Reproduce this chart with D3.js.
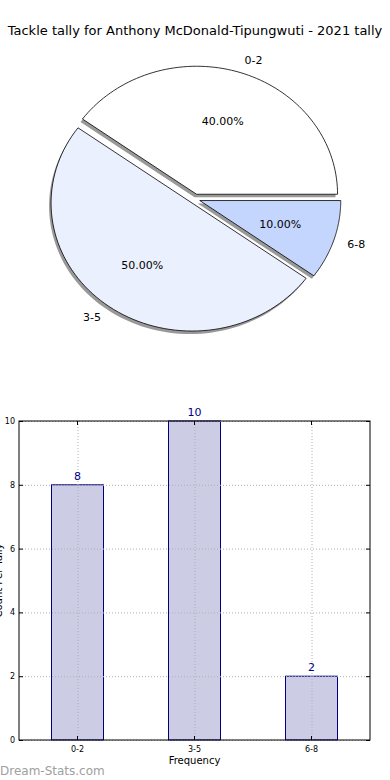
<!DOCTYPE html>
<html>
<head>
<meta charset="utf-8">
<script src="https://cdnjs.cloudflare.com/ajax/libs/d3/7.8.5/d3.min.js"></script>
<style>
body{margin:0;background:#fff;}
svg{display:block;font-family:"DejaVu Sans",sans-serif;}
</style>
</head>
<body>
<svg id="chart"></svg>
<script>
//----------data----------
var categories = ["0-2","3-5","6-8"]
var tallies = [8,10,2]
var pieColors = ["#ffffff","#eaf0fd","#c4d6fd"]
var yTicks = [0,2,4,6,8,10]
var title = "Tackle tally for Anthony McDonald-Tipungwuti - 2021 tally"

var screen = {width:390, height:780}
var svg = d3.select("#chart")
	.attr("width",screen.width)
	.attr("height",screen.height)

svg.append("text")
	.attr("x",195)
	.attr("y",35)
	.attr("text-anchor","middle")
	.style("font-size","13px")
	.text(title)

//----------pie----------
var drawPie = function()
{
	var center = {x:195, y:199}
	var rx = 141, ry = 128, explode = 5
	var total = d3.sum(tallies)
	// matplotlib style: counter-clockwise from east
	var slices = []
	var start = 0
	tallies.forEach(function(v,i){
		var sweep = v/total*2*Math.PI
		slices.push({cat:categories[i], value:v, a0:start, a1:start+sweep, color:pieColors[i]})
		start += sweep
	})
	var wedgePath = function(s,cx,cy)
	{
		var p = d3.path()
		p.moveTo(cx,cy)
		var n = 80
		for (var k=0;k<=n;k++)
		{
			var a = s.a0 + (s.a1-s.a0)*k/n
			p.lineTo(cx + rx*Math.cos(a), cy - ry*Math.sin(a))
		}
		p.closePath()
		return p.toString()
	}
	slices.forEach(function(s){
		var mid = (s.a0+s.a1)/2
		s.cx = center.x + explode*Math.cos(mid)
		s.cy = center.y - explode*Math.sin(mid)
		s.mid = mid
	})
	var g = svg.append("g")
	g.selectAll("path.shadow")
		.data(slices)
		.enter()
		.append("path")
		.attr("class","shadow")
		.attr("d",function(s){return wedgePath(s,s.cx-2,s.cy+3)})
		.attr("fill","#7f7f7f")
		.attr("opacity",0.8)
	g.selectAll("path.wedge")
		.data(slices)
		.enter()
		.append("path")
		.attr("class","wedge")
		.attr("d",function(s){return wedgePath(s,s.cx,s.cy)})
		.attr("fill",function(s){return s.color})
		.attr("stroke","#000")
		.attr("stroke-width",0.8)
		.attr("stroke-linejoin","miter")
	g.selectAll("text.lab")
		.data(slices)
		.enter()
		.append("text")
		.attr("class","lab")
		.attr("x",function(s){return s.cx + 1.1*rx*Math.cos(s.mid)})
		.attr("y",function(s){return s.cy - 1.1*ry*Math.sin(s.mid) + 4})
		.attr("text-anchor",function(s){return Math.cos(s.mid)>0 ? "start" : "end"})
		.style("font-size","11px")
		.text(function(s){return s.cat})
	g.selectAll("text.pct")
		.data(slices)
		.enter()
		.append("text")
		.attr("class","pct")
		.attr("x",function(s){return s.cx + 0.6*rx*Math.cos(s.mid)})
		.attr("y",function(s){return s.cy - 0.6*ry*Math.sin(s.mid) + 4})
		.attr("text-anchor","middle")
		.style("font-size","11px")
		.text(function(s){return (s.value/total*100).toFixed(2)+"%"})
}

//----------bars----------
var drawBars = function()
{
	var margins = {left:19, top:421}
	var graph = {width:351, height:319}
	var xScale = d3.scaleBand()
		.domain(categories)
		.range([0,graph.width])
	var yScale = d3.scaleLinear()
		.domain([0,10])
		.range([graph.height,0])
	var barW = 52

	var target = svg.append("g")
		.attr("transform","translate("+margins.left+","+margins.top+")")

	target.selectAll("rect.bar")
		.data(tallies)
		.enter()
		.append("rect")
		.attr("class","bar")
		.attr("x",function(d,i){return xScale(categories[i]) + xScale.bandwidth()/2 - barW/2})
		.attr("y",function(d){return yScale(d)})
		.attr("width",barW)
		.attr("height",function(d){return graph.height - yScale(d)})
		.attr("fill","#cccce4")
		.attr("stroke","#000080")
		.attr("stroke-width",1)

	// grid on top (matplotlib classic)
	target.selectAll("line.hgrid")
		.data(yTicks)
		.enter()
		.append("line")
		.attr("class","hgrid")
		.attr("x1",0).attr("x2",graph.width)
		.attr("y1",function(d){return yScale(d)+0.5})
		.attr("y2",function(d){return yScale(d)+0.5})
		.attr("stroke","#b0b0b0")
		.attr("stroke-dasharray","1,2")
	target.selectAll("line.vgrid")
		.data(categories)
		.enter()
		.append("line")
		.attr("class","vgrid")
		.attr("x1",function(c){return xScale(c)+xScale.bandwidth()/2+0.5})
		.attr("x2",function(c){return xScale(c)+xScale.bandwidth()/2+0.5})
		.attr("y1",0).attr("y2",graph.height)
		.attr("stroke","#b0b0b0")
		.attr("stroke-dasharray","1,2")

	// value labels
	target.selectAll("text.val")
		.data(tallies)
		.enter()
		.append("text")
		.attr("class","val")
		.attr("x",function(d,i){return xScale(categories[i]) + xScale.bandwidth()/2})
		.attr("y",function(d){return yScale(d)-5})
		.attr("text-anchor","middle")
		.attr("fill","#00008b")
		.style("font-size","11px")
		.text(function(d){return d})

	// frame
	target.append("rect")
		.attr("x",0).attr("y",0)
		.attr("width",graph.width).attr("height",graph.height)
		.attr("fill","none")
		.attr("stroke","#000")
		.attr("stroke-width",1)

	var yAxis = d3.axisLeft(yScale).tickValues(yTicks).tickSize(0).tickPadding(4)
	var ya = target.append("g").call(yAxis)
	ya.select(".domain").remove()
	ya.selectAll("text").style("font-size","8px").style("font-family","DejaVu Sans")
	var yAxisR = d3.axisRight(yScale).tickValues(yTicks).tickSize(-4).tickFormat("")
	var yr = target.append("g").attr("transform","translate("+graph.width+",0)").call(yAxisR)
	yr.select(".domain").remove()
	var yAxisL = d3.axisLeft(yScale).tickValues(yTicks).tickSize(-4).tickFormat("")
	var yl = target.append("g").call(yAxisL)
	yl.select(".domain").remove()

	var xAxis = d3.axisBottom(xScale).tickSize(-4).tickPadding(6)
	var xa = target.append("g")
		.attr("transform","translate(0,"+graph.height+")")
		.call(xAxis)
	xa.select(".domain").remove()
	xa.selectAll("text").style("font-size","8px").style("font-family","DejaVu Sans")
	var xAxisT = d3.axisTop(xScale).tickSize(-4).tickFormat("")
	var xt = target.append("g").call(xAxisT)
	xt.select(".domain").remove()

	svg.append("text")
		.attr("x",margins.left+graph.width/2)
		.attr("y",764)
		.attr("text-anchor","middle")
		.style("font-size","10px")
		.text("Frequency")

	// clipped at the left edge, as in the original image
	svg.append("text")
		.attr("transform","translate(2,"+(margins.top+graph.height/2)+") rotate(-90)")
		.attr("text-anchor","middle")
		.style("font-size","10px")
		.text("Count Per Tally")
}

drawPie()
drawBars()

svg.append("text")
	.attr("x",0)
	.attr("y",775)
	.attr("fill","#a0a0a0")
	.style("font-size","12px")
	.text("Dream-Stats.com")
</script>
</body>
</html>
